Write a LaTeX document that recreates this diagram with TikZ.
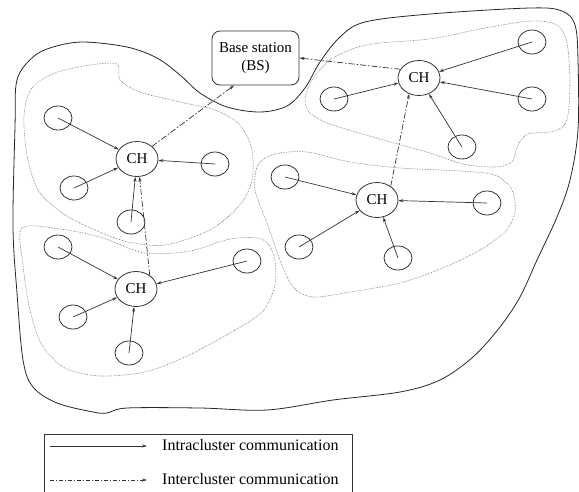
\documentclass[tikz,border=0pt]{standalone}
\usepackage{fontspec}
\setmainfont{Liberation Serif}
\usetikzlibrary{shapes.geometric,arrows.meta}
\begin{document}
\begin{tikzpicture}[x=1pt,y=-1pt,
  ink/.style={draw=black!80,line width=0.8pt},
  member/.style={ellipse,ink,minimum width=28pt,minimum height=24pt,inner sep=0pt},
  head/.style={ellipse,ink,minimum width=42pt,minimum height=35pt,inner sep=0pt,font=\fontsize{15}{17}\selectfont},
  intra/.style={draw=black!80,line width=0.7pt,-{Stealth[length=5pt,width=3pt]}},
  inter/.style={draw=black!80,line width=0.7pt,dash pattern=on 6pt off 2pt on 1.5pt off 2pt,-{Stealth[length=5pt,width=3pt]}},
  region/.style={draw=black!85,line width=0.8pt},
  cluster/.style={draw=black!60,line width=0.6pt,densely dotted}]
\useasboundingbox (0,0) rectangle (579,491);

% outer field boundary
\draw[region] plot[smooth cycle,tension=0.55] coordinates {
 (83,42) (127,47) (157,58) (180,75) (200,93) (227,107) (260,112) (287,106)
 (305,88) (320,62) (340,37) (365,22) (430,14) (530,8) (562,11) (575,25)
 (578,60) (578,130) (570,180) (557,217) (537,260) (520,297) (500,327)
 (473,357) (440,380) (400,392) (333,400) (267,410) (200,408) (127,408)
 (107,413) (93,412) (57,403) (33,387) (23,360) (17,293) (13,227) (15,127)
 (17,80) (33,57) (53,47)};

% clusters
\draw[cluster] plot[smooth cycle,tension=0.5] coordinates {
 (117,64) (120,80) (140,92) (180,102) (215,110) (240,125) (252,150) (252,180)
 (240,205) (210,230) (165,245) (128,242) (95,230) (62,213) (38,190) (27,155)
 (24,115) (32,88) (55,73) (90,65)};
\draw[cluster] plot[smooth cycle,tension=0.5] coordinates {
 (22,228) (60,229) (100,237) (145,253) (190,251) (230,239) (262,239) (274,256)
 (275,285) (262,312) (230,333) (185,357) (145,372) (100,376) (65,368) (42,345)
 (30,310) (23,265)};
\draw[cluster] plot[smooth cycle,tension=0.5] coordinates {
 (305,100) (312,80) (330,60) (355,48) (380,43) (420,40) (447,36) (480,29)
 (530,21) (557,25) (567,43) (570,83) (567,120) (555,131) (528,134) (518,145)
 (512,162) (495,167) (463,164) (430,153) (380,139) (330,124) (310,113)};
\draw[cluster] plot[smooth cycle,tension=0.5] coordinates {
 (258,165) (275,154) (307,152) (350,162) (400,168) (460,171) (495,175)
 (512,190) (515,212) (505,232) (480,250) (445,267) (400,283) (350,292)
 (313,297) (293,287) (280,260) (267,223) (255,190)};

% base station
\node[ink,rounded corners=8pt,minimum width=87pt,minimum height=54pt,align=center,
  font=\fontsize{15}{18}\selectfont] (bs) at (255.5,58) {Base station\\(BS)};

% cluster heads
\node[head] (ch1) at (137,159) {CH};
\node[head] (ch2) at (136,289) {CH};
\node[head] (ch3) at (419,78) {CH};
\node[head] (ch4) at (377,200) {CH};

% members cluster 1
\node[member] (a1) at (58,118) {};
\node[member] (a2) at (74,188) {};
\node[member] (a3) at (215,164) {};
\node[member] (a4) at (131,222) {};
% members cluster 2
\node[member] (b1) at (58,247) {};
\node[member] (b2) at (73,317) {};
\node[member] (b3) at (247,261) {};
\node[member] (b4) at (129,353) {};
% members cluster 3
\node[member] (c1) at (532,42) {};
\node[member] (c2) at (334,99) {};
\node[member] (c3) at (532,99) {};
\node[member] (c4) at (462,147) {};
% members cluster 4
\node[member] (d1) at (285,177) {};
\node[member] (d2) at (299,247) {};
\node[member] (d3) at (487,203) {};
\node[member] (d4) at (398,258) {};

% intracluster links
\foreach \m in {a1,a2,a3,a4} \draw[intra] (\m.center) -- (ch1);
\foreach \m in {b1,b2,b3,b4} \draw[intra] (\m.center) -- (ch2);
\foreach \m in {c1,c2,c3,c4} \draw[intra] (\m.center) -- (ch3);
\foreach \m in {d1,d2,d3,d4} \draw[intra] (\m.center) -- (ch4);

% intercluster links
\draw[inter] (ch1.40) -- (bs.232);
\draw[inter] (ch3.155) -- (bs.east);
\draw[inter] (ch2.45) -- (ch1.-82);
\draw[inter] (ch4.45) -- (ch3.238);

% legend
\draw[ink] (44,492) -- (44,434) -- (352,434) -- (352,492);
\coordinate (l1a) at (50,446);
\coordinate (l1b) at (147,446);
\coordinate (l2a) at (50,480);
\coordinate (l2b) at (147,480);
\draw[intra] (l1a) -- (l1b);
\draw[inter,dash pattern=on 4pt off 2pt on 1pt off 2pt] (l2a) -- (l2b);
\node[anchor=west,inner sep=0pt,font=\fontsize{16}{18}\selectfont] (t1) at (162,445) {Intracluster communication};
\node[anchor=west,inner sep=0pt,font=\fontsize{16}{18}\selectfont] (t2) at (162,479) {Intercluster communication};
\end{tikzpicture}
\end{document}
